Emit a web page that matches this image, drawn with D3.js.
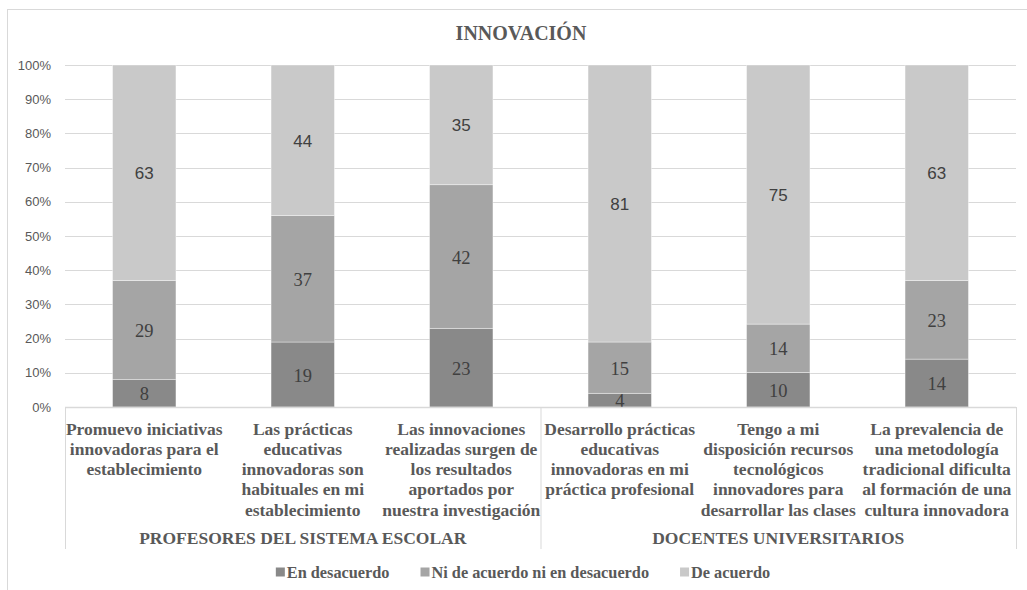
<!DOCTYPE html>
<html>
<head>
<meta charset="utf-8">
<script src="https://cdn.jsdelivr.net/npm/d3@7"></script>
<style>
  html, body { margin: 0; padding: 0; background: #fff; }
  svg { display: block; }
</style>
</head>
<body>
<svg id="chart" width="1027" height="590"></svg>
<script>
// ---- DATA ----
const title = "INNOVACIÓN";
const categories = [
  "Promuevo iniciativas\ninnovadoras para el\nestablecimiento",
  "Las prácticas\neducativas\ninnovadoras son\nhabituales en mi\nestablecimiento",
  "Las innovaciones\nrealizadas surgen de\nlos resultados\naportados por\nnuestra investigación",
  "Desarrollo prácticas\neducativas\ninnovadoras en mi\npráctica profesional",
  "Tengo a mi\ndisposición recursos\ntecnológicos\ninnovadores para\ndesarrollar las clases",
  "La prevalencia de\nuna metodología\ntradicional dificulta\nal formación de una\ncultura innovadora"
];
const groups = ["PROFESORES DEL SISTEMA ESCOLAR", "DOCENTES UNIVERSITARIOS"];
const groupOfCategory = [0, 0, 0, 1, 1, 1];
const seriesNames = ["En desacuerdo", "Ni de acuerdo ni en desacuerdo", "De acuerdo"];
const enDesacuerdo = [8, 19, 23, 4, 10, 14];
const niNi = [29, 37, 42, 15, 14, 23];
const deAcuerdo = [63, 44, 35, 81, 75, 63];
const yTicks = [0, 0.1, 0.2, 0.3, 0.4, 0.5, 0.6, 0.7, 0.8, 0.9, 1.0];

// ---- STYLE ----
const colors = ["#898989", "#a5a5a5", "#c9c9c9"];
const serif = "'Liberation Serif', 'Times New Roman', serif";
const sans = "'Liberation Sans', Arial, sans-serif";
const labelFonts = [serif, serif, sans];
const labelSizes = [18.5, 18.5, 17];
const textColor = "#595959";
const lineColor = "#d9d9d9";

const svg = d3.select("#chart");
const plot = { left: 65, right: 1016, top: 65, bottom: 407 };

// outer chart border
svg.append("rect").attr("x", 7.5).attr("y", 9.5).attr("width", 1040).attr("height", 600)
  .attr("fill", "none").attr("stroke", lineColor).attr("stroke-width", 1);

// title
svg.append("text").attr("x", 521).attr("y", 33)
  .attr("text-anchor", "middle").attr("dominant-baseline", "central")
  .attr("font-family", serif).attr("font-weight", "bold").attr("font-size", 20)
  .attr("fill", textColor).text(title);

// scales
const x = d3.scaleBand().domain(d3.range(categories.length))
  .range([plot.left, plot.right]).paddingInner(0.6).paddingOuter(0.3);
const y = d3.scaleLinear().domain([0, 1]).range([plot.bottom, plot.top]);

// gridlines
svg.append("g").selectAll("line").data(yTicks.filter(t => t > 0)).join("line")
  .attr("x1", plot.left).attr("x2", plot.right)
  .attr("y1", d => Math.round(y(d)) + 0.5).attr("y2", d => Math.round(y(d)) + 0.5)
  .attr("stroke", lineColor).attr("stroke-width", 1);

// y axis labels
const yAxis = d3.axisLeft(y).tickValues(yTicks).tickFormat(d3.format(".0%")).tickSize(0).tickPadding(14);
const yg = svg.append("g").attr("transform", `translate(${plot.left},0)`).call(yAxis);
yg.select(".domain").remove();
yg.selectAll("text").attr("font-family", sans).attr("font-size", 13).attr("fill", textColor);

// stacked data (100% stacked)
const rows = categories.map((c, i) => {
  const tot = enDesacuerdo[i] + niNi[i] + deAcuerdo[i];
  return { i, s0: enDesacuerdo[i], s1: niNi[i], s2: deAcuerdo[i], tot };
});
const keys = ["s0", "s1", "s2"];
const stack = d3.stack().keys(keys).value((d, k) => d[k] / d.tot);
const stacked = stack(rows);

const gBars = svg.append("g");
stacked.forEach((layer, li) => {
  gBars.append("g").selectAll("rect").data(layer).join("rect")
    .attr("x", d => x(d.data.i))
    .attr("width", x.bandwidth())
    .attr("y", d => y(d[1]))
    .attr("height", d => y(d[0]) - y(d[1]))
    .attr("fill", colors[li])
    .attr("stroke", "#ffffff").attr("stroke-opacity", 0.5).attr("stroke-width", 0.75);
});
// data labels
stacked.forEach((layer, li) => {
  svg.append("g").selectAll("text").data(layer).join("text")
    .attr("x", d => x(d.data.i) + x.bandwidth() / 2)
    .attr("y", d => (y(d[0]) + y(d[1])) / 2 + 1)
    .attr("text-anchor", "middle").attr("dominant-baseline", "central")
    .attr("font-family", labelFonts[li]).attr("font-size", labelSizes[li])
    .attr("fill", "#404040")
    .text(d => d.data[keys[li]]);
});

// category axis: horizontal line and group separators
const axisBottom = 549;
svg.append("line").attr("x1", plot.left).attr("x2", plot.right)
  .attr("y1", plot.bottom + 0.5).attr("y2", plot.bottom + 0.5)
  .attr("stroke", lineColor).attr("stroke-width", 1.5);
const boundaries = [0];
groupOfCategory.forEach((g, i) => { if (i > 0 && g !== groupOfCategory[i - 1]) boundaries.push(i); });
boundaries.push(categories.length);
const bx = i => plot.left + i * x.step();
svg.append("g").selectAll("line").data(boundaries).join("line")
  .attr("x1", d => bx(d) + 0.5).attr("x2", d => bx(d) + 0.5)
  .attr("y1", plot.bottom).attr("y2", axisBottom)
  .attr("stroke", lineColor).attr("stroke-width", 1);

// category labels
const lineH = 20.3;
const catG = svg.append("g");
categories.forEach((c, i) => {
  const t = catG.append("text")
    .attr("text-anchor", "middle")
    .attr("font-family", serif).attr("font-weight", "bold").attr("font-size", 17.5)
    .attr("fill", textColor);
  c.split("\n").forEach((ln, k) => {
    t.append("tspan").attr("x", x(i) + x.bandwidth() / 2)
      .attr("y", 428.5 + k * lineH).attr("dominant-baseline", "central").text(ln);
  });
});

// group labels
groups.forEach((g, gi) => {
  const idx = groupOfCategory.map((v, i) => v === gi ? i : -1).filter(v => v >= 0);
  const x0 = bx(d3.min(idx)), x1 = bx(d3.max(idx) + 1);
  svg.append("text").attr("x", (x0 + x1) / 2).attr("y", 538)
    .attr("text-anchor", "middle").attr("dominant-baseline", "central")
    .attr("font-family", serif).attr("font-weight", "bold").attr("font-size", 17.5)
    .attr("fill", textColor).text(g);
});

// legend
const leg = svg.append("g");
let lx = 0;
seriesNames.forEach((n, i) => {
  const it = leg.append("g").attr("transform", `translate(${lx},0)`);
  it.append("rect").attr("x", 0).attr("y", -4.5).attr("width", 9).attr("height", 9).attr("fill", colors[i]);
  const tx = it.append("text").attr("x", 11).attr("y", 0).attr("dominant-baseline", "central")
    .attr("font-family", serif).attr("font-weight", "bold").attr("font-size", 16.3)
    .attr("fill", textColor).text(n);
  const w = tx.node().getComputedTextLength();
  lx += 11 + w + 31;
});
const legW = lx - 31;
leg.attr("transform", `translate(${523 - legW / 2},572)`);
</script>
</body>
</html>
